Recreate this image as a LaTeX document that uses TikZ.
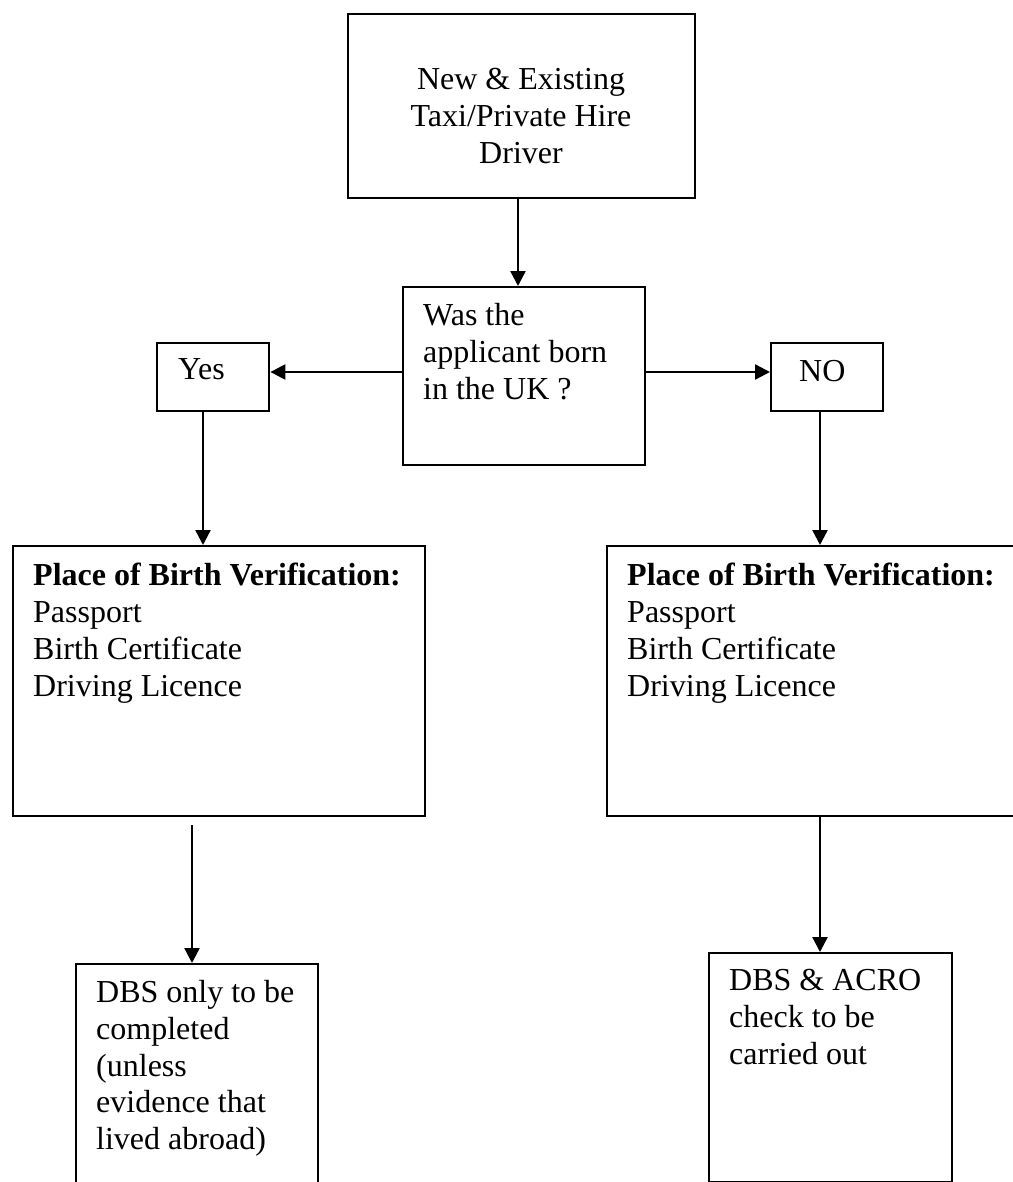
\documentclass[tikz,border=0pt]{standalone}
\usepackage{fontspec}
\setmainfont{Liberation Serif}
\usetikzlibrary{arrows.meta}
\begin{document}
\begin{tikzpicture}[x=1pt,y=-1pt,
  box/.style={draw, line width=2.4pt, inner sep=0pt, anchor=north west},
  txt/.style={inner sep=0pt, align=left, font=\fontsize{32}{36.8}\selectfont, anchor=north west},
  arr/.style={line width=2.4pt, -{Triangle[length=15pt,width=15pt]}},
  ln/.style={line width=2.4pt}]
\useasboundingbox (0,0) rectangle (1012,1182);
% boxes
\node[box, minimum width=347pt, minimum height=184pt] (top) at (347,13) {};
\node[box, minimum width=242pt, minimum height=178pt] (dec) at (402,286) {};
\node[box, minimum width=112pt, minimum height=68pt] (yes) at (156,342) {};
\node[box, minimum width=112pt, minimum height=68pt] (no) at (770,342) {};
\node[box, minimum width=412pt, minimum height=270pt] (lpl) at (12,545) {};
\node[box, minimum width=412pt, minimum height=270pt] (rpl) at (606,545) {};
\node[box, minimum width=242pt, minimum height=240pt] (ldbs) at (75,963) {};
\node[box, minimum width=243pt, minimum height=229pt] (rdbs) at (708,952) {};
% texts
\node[txt, align=center, anchor=north] (toptxt) at (521,68) {New \& Existing\\Taxi/Private Hire\\Driver};
\node[txt] (dectxt) at (423,303) {Was the\\applicant born\\in the UK ?};
\node[txt] (yestxt) at (178,358) {Yes};
\node[txt] (notxt) at (799,360) {NO};
\node[txt] (lpltxt) at (33,563) {\textbf{Place of Birth Verification:}\\Passport\\Birth Certificate\\Driving Licence};
\node[txt] (rpltxt) at (627,563) {\textbf{Place of Birth Verification:}\\Passport\\Birth Certificate\\Driving Licence};
\node[txt] (ldbstxt) at (96,980) {DBS only to be\\completed\\(unless\\evidence that\\lived abroad)};
\node[txt] (rdbstxt) at (729,969) {DBS \& ACRO\\check to be\\carried out};
% helper coordinates
\coordinate (cx1) at (518,0);
\coordinate (cy1) at (0,372);
\coordinate (cx2) at (203,0);
\coordinate (cx3) at (820,0);
\coordinate (cx4) at (192,0);
% connectors
\draw[arr] (cx1 |- top.south) -- (cx1 |- dec.north);
\draw[arr] (dec.west |- cy1) -- (yes.east |- cy1);
\draw[arr] (dec.east |- cy1) -- (no.west |- cy1);
\draw[arr] (cx2 |- yes.south) -- (cx2 |- lpl.north);
\draw[arr] (cx3 |- no.south) -- (cx3 |- rpl.north);
\draw[arr, shorten <=8pt] (cx4 |- lpl.south) -- (cx4 |- ldbs.north);
\draw[arr] (cx3 |- rpl.south) -- (cx3 |- rdbs.north);
\end{tikzpicture}
\end{document}
